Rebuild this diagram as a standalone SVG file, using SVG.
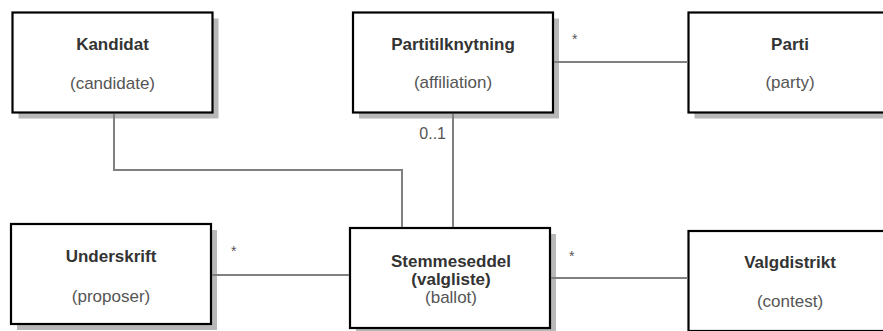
<svg xmlns="http://www.w3.org/2000/svg" width="883" height="331" viewBox="0 0 883 331">
<style>
.shadow{fill:#b8b8b8;stroke:none}
.box{fill:#ffffff;stroke:#000000;stroke-width:2.2}
.title{font-family:"Liberation Sans",Arial,sans-serif;font-size:17px;font-weight:bold;fill:#333333;text-anchor:middle}
.sub{font-family:"Liberation Sans",Arial,sans-serif;font-size:17px;fill:#555555;text-anchor:middle}
.edge{fill:none;stroke:#808080;stroke-width:2}
.lbl{font-family:"Liberation Sans",Arial,sans-serif;font-size:14px;fill:#555555}
</style>
<rect width="883" height="331" fill="#ffffff"/>
<g id="kandidat">
<rect class="shadow" x="18.5" y="18.5" width="200" height="100"/>
<rect class="box" x="12.5" y="12.5" width="200" height="100"/>
<text class="title" x="112.5" y="50">Kandidat</text>
<text class="sub" x="112.5" y="89">(candidate)</text>
</g>
<g id="partitilknytning">
<rect class="shadow" x="359" y="18.5" width="200" height="100"/>
<rect class="box" x="353" y="12.5" width="200" height="100"/>
<text class="title" x="453" y="50">Partitilknytning</text>
<text class="sub" x="453" y="88">(affiliation)</text>
</g>
<g id="parti">
<rect class="shadow" x="694.5" y="18.5" width="200" height="100"/>
<rect class="box" x="688.5" y="12.5" width="200" height="100"/>
<text class="title" x="790" y="50">Parti</text>
<text class="sub" x="790" y="88">(party)</text>
</g>
<g id="underskrift">
<rect class="shadow" x="17" y="230" width="200" height="100"/>
<rect class="box" x="11" y="224" width="200" height="100"/>
<text class="title" x="111" y="262">Underskrift</text>
<text class="sub" x="111" y="302">(proposer)</text>
</g>
<g id="stemmeseddel">
<rect class="shadow" x="356" y="234" width="200" height="100"/>
<rect class="box" x="350" y="228" width="200" height="100"/>
<text class="title" x="451" y="267">Stemmeseddel</text>
<text class="title" x="451" y="285">(valgliste)</text>
<text class="sub" x="451" y="303">(ballot)</text>
</g>
<g id="valgdistrikt">
<rect class="shadow" x="694.5" y="237" width="200" height="100"/>
<rect class="box" x="688.5" y="231" width="200" height="100"/>
<text class="title" x="790" y="268">Valgdistrikt</text>
<text class="sub" x="790" y="307">(contest)</text>
</g>
<g id="connectors">
<path class="edge" d="M114,114 V170 H402 V227"/>
<path class="edge" d="M453,114 V227"/>
<text class="lbl" x="446" y="139" text-anchor="end" style="font-size:16px">0..1</text>
<path class="edge" d="M554,62 H687.5"/>
<text class="lbl" x="572" y="44">*</text>
<path class="edge" d="M212,275 H349"/>
<text class="lbl" x="231" y="256">*</text>
<path class="edge" d="M551,278 H687.5"/>
<text class="lbl" x="569" y="261">*</text>
</g>
</svg>
